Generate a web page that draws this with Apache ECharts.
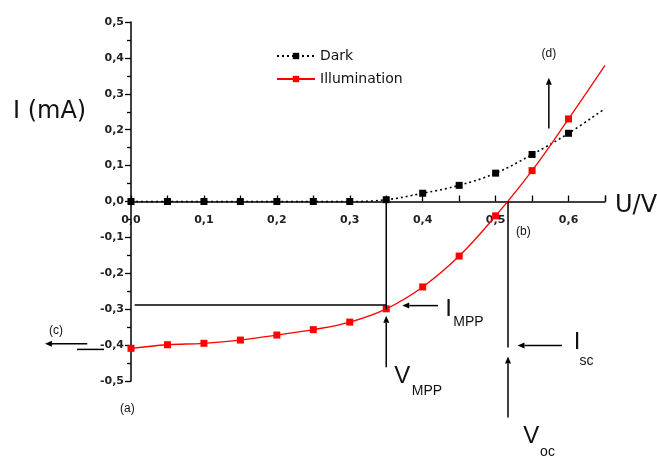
<!DOCTYPE html>
<html><head><meta charset="utf-8">
<script src="https://cdn.jsdelivr.net/npm/echarts@6/dist/echarts.min.js"></script>
<style>html,body{margin:0;padding:0;background:#fff}#c{width:657px;height:457px}</style>
</head><body><div id="c"></div>
<script>
// ---- data ----
const voltages = [0, 0.05, 0.1, 0.15, 0.2, 0.25, 0.3, 0.35, 0.4, 0.45, 0.5, 0.55, 0.6, 0.65];
const darkCurrent = [0, 0, 0, 0, 0, 0, 0, 0.005, 0.023, 0.045, 0.079, 0.131, 0.19, 0.259];
const illumCurrent = [-0.409, -0.399, -0.395, -0.386, -0.372, -0.357, -0.336, -0.299, -0.238, -0.152, -0.040, 0.086, 0.230, 0.379];
const seriesNames = ['Dark', 'Illumination'];
const xRange = [0, 0.65];
const yRange = [-0.5, 0.5];

// annotation anchors (data units)
const annotLines = [
  [[0.005, -0.288], [0.35, -0.288]],
  [[0.35, 0], [0.35, -0.30]],
  [[0.517, 0], [0.517, -0.407]],
  [[-0.074, -0.412], [-0.037, -0.412]]
];
const annotArrows = [
  [[0.421, -0.290], [0.372, -0.290]],
  [[0.35, -0.462], [0.35, -0.318]],
  [[0.517, -0.602], [0.517, -0.432]],
  [[0.591, -0.401], [0.530, -0.401]],
  [[0.573, 0.203], [0.573, 0.345]],
  [[-0.060, -0.396], [-0.118, -0.396]]
];
const annotTexts = [
  {t: '(d)', p: [0.573, 0.412], s: 12, a: 'center'},
  {t: '(b)', p: [0.538, -0.084], s: 12, a: 'center'},
  {t: '(c)', p: [-0.103, -0.359], s: 12, a: 'center'},
  {t: '(a)', p: [-0.005, -0.577], s: 12, a: 'center'},
  {t: 'I', p: [0.431, -0.300], s: 24, a: 'left'},
  {t: 'MPP', p: [0.442, -0.337], s: 14, a: 'left'},
  {t: 'V', p: [0.361, -0.487], s: 24, a: 'left'},
  {t: 'MPP', p: [0.385, -0.529], s: 14, a: 'left'},
  {t: 'I', p: [0.607, -0.393], s: 24, a: 'left'},
  {t: 'sc', p: [0.615, -0.446], s: 14, a: 'left'},
  {t: 'V', p: [0.538, -0.655], s: 24, a: 'left'},
  {t: 'oc', p: [0.561, -0.699], s: 14, a: 'left'}
];

const fmt = v => (Math.round(v * 10) / 10).toFixed(1).replace('.', ',');
function pts(arr, lastNoSymbol) {
  return voltages.map((x, i) => {
    const d = {value: [x, arr[i]]};
    if (lastNoSymbol && i === voltages.length - 1) d.symbol = 'none';
    return d;
  });
}

const chart = echarts.init(document.getElementById('c'), null, {renderer: 'canvas'});
const tickFont = {color: '#222', fontSize: 11, fontWeight: 'bold', fontFamily: 'DejaVu Sans, sans-serif'};
const gridTop = 22, gridBottom = 76;
chart.setOption({
  animation: false,
  backgroundColor: '#fff',
  grid: {left: 131, right: 52, top: gridTop, bottom: gridBottom, containLabel: false},
  legend: {
    left: 271, top: 44, orient: 'vertical', itemWidth: 38, itemHeight: 8, itemGap: 9,
    textStyle: {fontSize: 14, color: '#111', fontFamily: 'DejaVu Sans, sans-serif'},
    data: seriesNames
  },
  xAxis: {
    type: 'value', min: xRange[0], max: xRange[1], interval: 0.1,
    axisLine: {onZero: true, lineStyle: {color: '#000', width: 1.5}},
    axisTick: {inside: true, length: 6, lineStyle: {color: '#000', width: 1.3}},
    minorTick: {show: true, splitNumber: 2, length: 6, lineStyle: {color: '#000', width: 1.3}},
    axisLabel: Object.assign({formatter: fmt, showMaxLabel: false, margin: 13}, tickFont),
    splitLine: {show: false}
  },
  yAxis: {
    type: 'value', min: yRange[0], max: yRange[1], interval: 0.1,
    axisLine: {onZero: false, lineStyle: {color: '#000', width: 1.5}},
    axisTick: {length: 6, lineStyle: {color: '#000', width: 1.3}},
    minorTick: {show: true, splitNumber: 2, length: 4, lineStyle: {color: '#000', width: 1.3}},
    axisLabel: Object.assign({formatter: fmt, margin: 7}, tickFont),
    splitLine: {show: false}
  },
  series: [
    {
      name: seriesNames[0], type: 'line', data: pts(darkCurrent, true), smooth: 0.4,
      symbol: 'rect', symbolSize: 7, color: '#000',
      lineStyle: {color: '#000', width: 1.6, type: [2, 3]},
      itemStyle: {color: '#000'}, z: 3
    },
    {
      name: seriesNames[1], type: 'line', data: pts(illumCurrent, true), smooth: 0.4,
      symbol: 'rect', symbolSize: 7, color: '#ff0000',
      lineStyle: {color: '#ff0000', width: 1.3},
      itemStyle: {color: '#ff0000'}, z: 4
    }
  ]
});

const px = p => chart.convertToPixel({gridIndex: 0}, p);
// place x tick labels just under the zero line (labels otherwise sit at grid bottom)
const zeroY = px([0, 0])[1];
const bottomY = 457 - gridBottom;
chart.setOption({xAxis: {axisLabel: {margin: 13 - (bottomY - zeroY)}}});

const g = [];
annotLines.forEach(l => {
  const a = px(l[0]), b = px(l[1]);
  g.push({type: 'line', shape: {x1: a[0], y1: a[1], x2: b[0], y2: b[1]}, style: {stroke: '#000', lineWidth: 1.5}, z: 10});
});
annotArrows.forEach(l => {
  const a = px(l[0]), b = px(l[1]);
  const dx = b[0] - a[0], dy = b[1] - a[1], len = Math.hypot(dx, dy);
  const ux = dx / len, uy = dy / len, hl = 7, hw = 3;
  const bx = b[0] - ux * hl, by = b[1] - uy * hl;
  g.push({type: 'line', shape: {x1: a[0], y1: a[1], x2: bx, y2: by}, style: {stroke: '#000', lineWidth: 1.5}, z: 10});
  g.push({type: 'polygon', shape: {points: [[b[0], b[1]], [bx - uy * hw, by + ux * hw], [bx + uy * hw, by - ux * hw]]}, style: {fill: '#000'}, z: 10});
});
annotTexts.forEach(o => {
  const p = px(o.p);
  g.push({type: 'text', x: p[0], y: p[1], style: {text: o.t, fontSize: o.s, fill: '#111', align: o.a, verticalAlign: 'middle', fontFamily: 'Liberation Sans, Arial, sans-serif'}, z: 10});
});
g.push({type: 'text', x: 13, y: 112, style: {text: 'I (mA)', fontSize: 24, fill: '#111', verticalAlign: 'middle', fontFamily: 'DejaVu Sans, sans-serif'}});
g.push({type: 'text', x: 615, y: 206, style: {text: 'U/V', fontSize: 24, fill: '#111', verticalAlign: 'middle', fontFamily: 'DejaVu Sans, sans-serif'}});
chart.setOption({graphic: g});
</script>
</body></html>
